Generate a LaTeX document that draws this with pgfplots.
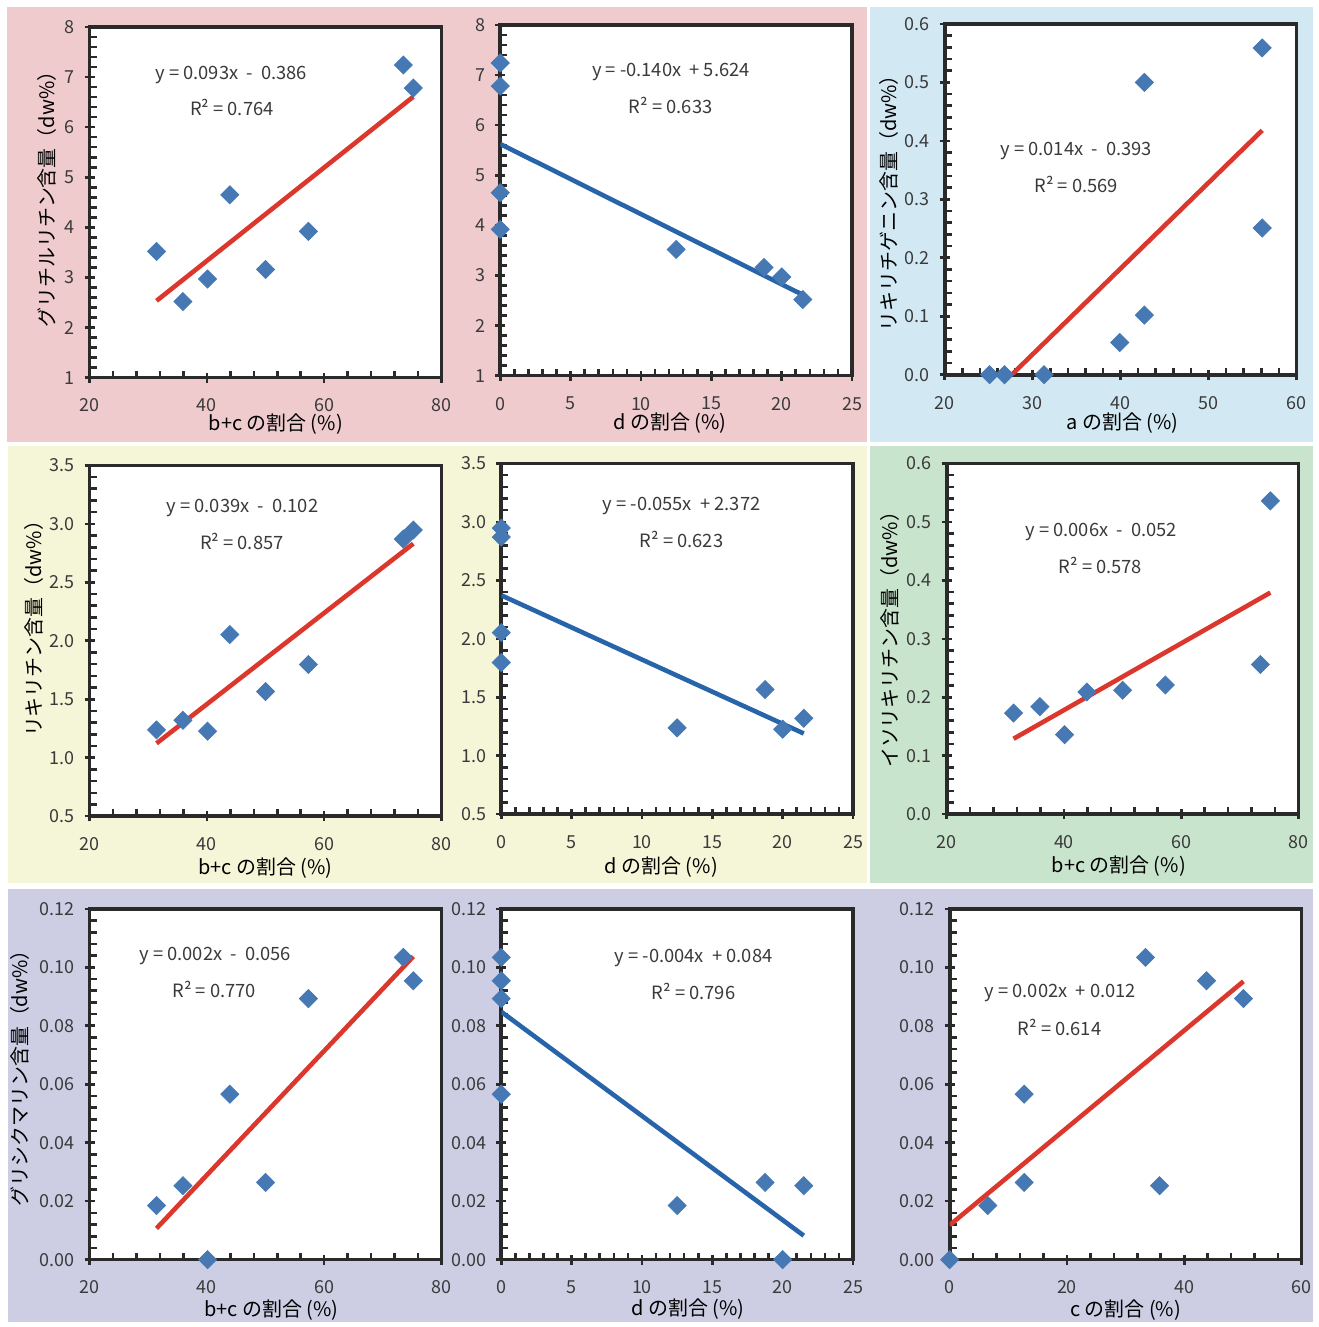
\documentclass[border=0pt]{standalone}
\usepackage{fontspec}
\setmainfont{Noto Sans CJK JP}
\usepackage{pgfplots}
\pgfplotsset{compat=1.18}
\definecolor{pinkbg}{HTML}{EFCBCD}
\definecolor{bluebg}{HTML}{D2E9F4}
\definecolor{yellowbg}{HTML}{F5F6D7}
\definecolor{greenbg}{HTML}{C8E4CD}
\definecolor{purplebg}{HTML}{CDCDE4}
\definecolor{axcol}{HTML}{2A2A2A}
\definecolor{txtcol}{HTML}{3A3A3A}
\definecolor{mkcol}{HTML}{4678B4}
\definecolor{redln}{HTML}{DC372D}
\definecolor{blueln}{HTML}{2864AA}
\pgfplotsset{
  myax/.style={
    scale only axis, width=176.5pt, height=176pt, anchor=south west,
    axis background/.style={fill=white},
    axis line style={line width=1.8pt, color=axcol},
    tick align=center, major tick length=5pt, minor tick length=3.5pt,
    every tick/.style={line width=1.3pt, color=axcol},
    minor x tick style={yshift=1.75pt}, minor y tick style={xshift=1.75pt},
    xtick pos=bottom, ytick pos=left, minor tick num=4,
    tick label style={font=\fontsize{9pt}{10pt}\selectfont, text=txtcol},
    xticklabel style={anchor=center, yshift=-11.5pt},
    yticklabel style={anchor=east, xshift=-1.5pt},
    /pgf/number format/assume math mode=true,
    label style={font=\fontsize{11pt}{12pt}\selectfont, text=txtcol},
    scaled ticks=false,
  },
  xl/.style 2 args={every axis x label/.style={at={([yshift=#2]axis description cs:#1,0)}, anchor=center}},
  yl/.style 2 args={every axis y label/.style={at={([xshift=#2]axis description cs:0,#1)}, rotate=90, anchor=center}},
  pts/.style={only marks, mark=square*, mark size=3.2pt, mark options={rotate=45, fill=mkcol, draw=mkcol}},
  rtl/.style={no marks, line width=2.3pt, color=redln},
  btl/.style={no marks, line width=2.3pt, color=blueln},
  p1/.style={/pgf/number format/.cd, fixed, fixed zerofill, precision=1},
  p2/.style={/pgf/number format/.cd, fixed, fixed zerofill, precision=2},
}
\tikzset{eqn/.style={font=\fontsize{9.2pt}{10pt}\selectfont, text=txtcol, inner sep=0pt}}
\begin{document}
\begin{tikzpicture}[x=0.5pt,y=-0.5pt]
\fill[white] (0,0) rectangle (1323,1327);
\fill[pinkbg] (7,7) rectangle (870,444);
\fill[bluebg] (873,7) rectangle (1318,444);
\fill[yellowbg] (8,448) rectangle (870,886);
\fill[greenbg] (873,448) rectangle (1318,886);
\fill[purplebg] (8,892) rectangle (1318,1327);
\coordinate (A1) at (90,379);
\coordinate (A2) at (502,377);
\coordinate (A3) at (948,376);
\coordinate (A4) at (90,819);
\coordinate (A5) at (503,817);
\coordinate (A6) at (950,817);
\coordinate (A7) at (90,1264);
\coordinate (A8) at (503,1264);
\coordinate (A9) at (953,1264);

% Panel 1
\begin{axis}[myax, at={(A1)}, xmin=20, xmax=80, ymin=1, ymax=8,
  xtick={20,40,60,80}, ytick={1,2,3,4,5,6,7,8},
  xl={0.529}{-23.2pt}, yl={0.522}{-21.5pt},
  xlabel={b+c の割合 (\%)}, ylabel={グリチルリチン含量（dw\%）}]
\addplot[rtl] coordinates {(31.4,2.534) (75.2,6.608)};
\addplot[pts] coordinates {(31.4,3.52) (35.9,2.52) (40.1,2.97) (43.9,4.65) (50.0,3.16) (57.3,3.92) (73.5,7.24) (75.2,6.78)};
\end{axis}

% Panel 2
\begin{axis}[myax, at={(A2)}, xmin=0, xmax=25, ymin=1, ymax=8,
  xtick={0,5,10,15,20,25}, ytick={1,2,3,4,5,6,7,8},
  xl={0.482}{-24pt},
  xlabel={d の割合 (\%)}]
\addplot[btl] coordinates {(0,5.624) (21.5,2.614)};
\addplot[pts] coordinates {(0,7.24) (0,6.78) (0,4.65) (0,3.92) (12.5,3.52) (18.75,3.16) (20.0,2.97) (21.5,2.52)};
\end{axis}

% Panel 3
\begin{axis}[myax, at={(A3)}, xmin=20, xmax=60, ymin=0, ymax=0.6,
  xtick={20,30,40,50,60}, ytick={0,0.1,0.2,0.3,0.4,0.5,0.6},
  yticklabel style={p1},
  xl={0.505}{-24.5pt}, yl={0.503}{-28pt},
  xlabel={a の割合 (\%)}, ylabel={リキリチゲニン含量（dw\%）}]
\addplot[rtl] coordinates {(25.1,-0.037) (56.1,0.418)};
\addplot[pts] coordinates {(25.1,0) (26.8,0) (31.3,0) (39.9,0.055) (42.7,0.102) (42.7,0.500) (56.1,0.559) (56.1,0.251)};
\end{axis}

% Panel 4
\begin{axis}[myax, at={(A4)}, xmin=20, xmax=80, ymin=0.5, ymax=3.5,
  xtick={20,40,60,80}, ytick={0.5,1.0,1.5,2.0,2.5,3.0,3.5},
  yticklabel style={p1},
  xl={0.499}{-26pt}, yl={0.548}{-28pt},
  xlabel={b+c の割合 (\%)}, ylabel={リキリチン含量（dw\%）}]
\addplot[rtl] coordinates {(31.4,1.123) (75.2,2.831)};
\addplot[pts] coordinates {(31.4,1.238) (35.9,1.32) (40.1,1.227) (43.9,2.053) (50.0,1.566) (57.3,1.797) (73.5,2.87) (75.2,2.947)};
\end{axis}

% Panel 5
\begin{axis}[myax, at={(A5)}, xmin=0, xmax=25, ymin=0.5, ymax=3.5,
  xtick={0,5,10,15,20,25}, ytick={0.5,1.0,1.5,2.0,2.5,3.0,3.5},
  yticklabel style={p1},
  xl={0.455}{-26.5pt},
  xlabel={d の割合 (\%)}]
\addplot[btl] coordinates {(0,2.372) (21.5,1.19)};
\addplot[pts] coordinates {(0,2.947) (0,2.87) (0,2.053) (0,1.797) (12.5,1.238) (18.75,1.566) (20.0,1.227) (21.5,1.32)};
\end{axis}

% Panel 6
\begin{axis}[myax, at={(A6)}, xmin=20, xmax=80, ymin=0, ymax=0.6,
  xtick={20,40,60,80}, ytick={0,0.1,0.2,0.3,0.4,0.5,0.6},
  yticklabel style={p1},
  xl={0.489}{-26pt}, yl={0.511}{-28.5pt},
  xlabel={b+c の割合 (\%)}, ylabel={イソリキリチン含量（dw\%）}]
\addplot[rtl] coordinates {(31.4,0.129) (75.2,0.379)};
\addplot[pts] coordinates {(31.4,0.173) (35.9,0.184) (40.1,0.136) (43.9,0.209) (50.0,0.212) (57.3,0.221) (73.5,0.256) (75.2,0.536)};
\end{axis}

% Panel 7
\begin{axis}[myax, at={(A7)}, xmin=20, xmax=80, ymin=0, ymax=0.12,
  xtick={20,40,60,80}, ytick={0,0.02,0.04,0.06,0.08,0.10,0.12},
  yticklabel style={p2},
  xl={0.517}{-25.3pt}, yl={0.531}{-35pt},
  xlabel={b+c の割合 (\%)}, ylabel={グリシクマリン含量（dw\%）}]
\addplot[rtl] coordinates {(31.4,0.0107) (75.2,0.1037)};
\addplot[pts] coordinates {(31.4,0.0185) (35.9,0.0253) (40.1,0.0) (43.9,0.0566) (50.0,0.0264) (57.3,0.0893) (73.5,0.1034) (75.2,0.0954)};
\end{axis}

% Panel 8
\begin{axis}[myax, at={(A8)}, xmin=0, xmax=25, ymin=0, ymax=0.12,
  xtick={0,5,10,15,20,25}, ytick={0,0.02,0.04,0.06,0.08,0.10,0.12},
  yticklabel style={p2},
  xl={0.531}{-25pt},
  xlabel={d の割合 (\%)}]
\addplot[btl] coordinates {(0,0.0848) (21.5,0.0082)};
\addplot[pts] coordinates {(0,0.1034) (0,0.0954) (0,0.0893) (0,0.0566) (12.5,0.0185) (18.75,0.0264) (20.0,0.0) (21.5,0.0253)};
\end{axis}

% Panel 9
\begin{axis}[myax, at={(A9)}, xmin=0, xmax=60, ymin=0, ymax=0.12,
  xtick={0,20,40,60}, ytick={0,0.02,0.04,0.06,0.08,0.10,0.12},
  yticklabel style={p2},
  xl={0.5}{-25.3pt},
  xlabel={c の割合 (\%)}]
\addplot[rtl] coordinates {(0,0.0118) (50.1,0.0952)};
\addplot[pts] coordinates {(0,0) (6.5,0.0185) (12.7,0.0264) (12.7,0.0566) (33.4,0.1034) (35.8,0.0253) (43.8,0.0954) (50.1,0.0893)};
\end{axis}

% Equations
\node[eqn] at (232,75) {y = 0.093x\ \ -\ \ 0.386};
\node[eqn] at (232.7,108) {R² = 0.764};
\node[eqn] at (673.3,72) {y = -0.140x\ \ + 5.624};
\node[eqn] at (673,105.7) {R² = 0.633};
\node[eqn] at (1080,152) {y = 0.014x\ \ -\ \ 0.393};
\node[eqn] at (1080,185) {R² = 0.569};
\node[eqn] at (243.3,510) {y = 0.039x\ \ -\ \ 0.102};
\node[eqn] at (242.7,543.3) {R² = 0.857};
\node[eqn] at (684,508) {y = -0.055x\ \ + 2.372};
\node[eqn] at (684,541) {R² = 0.623};
\node[eqn] at (1105,534.3) {y = 0.006x\ \ -\ \ 0.052};
\node[eqn] at (1104.3,567.7) {R² = 0.578};
\node[eqn] at (216,959.3) {y = 0.002x\ \ -\ \ 0.056};
\node[eqn] at (215,993.3) {R² = 0.770};
\node[eqn] at (696,961) {y = -0.004x\ \ + 0.084};
\node[eqn] at (696,995) {R² = 0.796};
\node[eqn] at (1064,996.7) {y = 0.002x\ \ + 0.012};
\node[eqn] at (1063.3,1030.7) {R² = 0.614};
\end{tikzpicture}
\end{document}
